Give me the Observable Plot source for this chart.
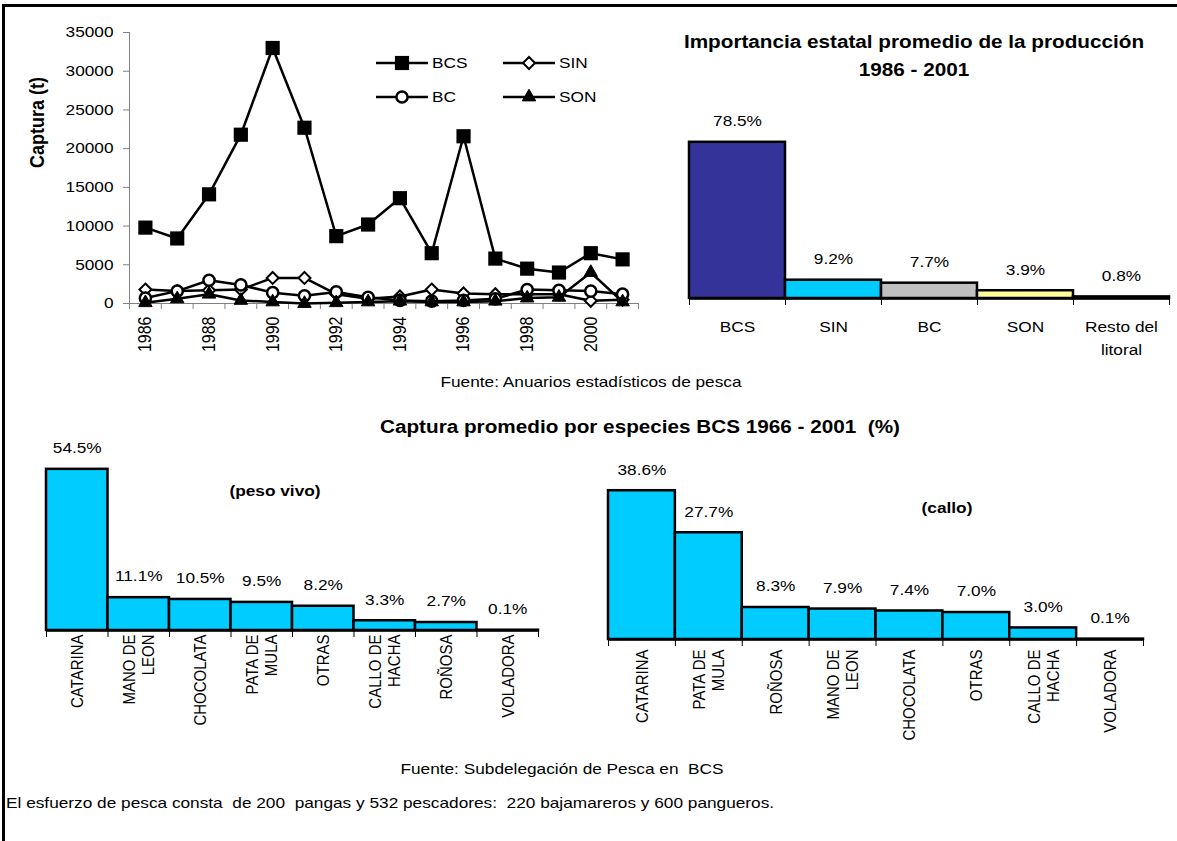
<!DOCTYPE html>
<html><head><meta charset="utf-8">
<script src="https://cdn.jsdelivr.net/npm/d3@7"></script>
<script src="https://cdn.jsdelivr.net/npm/@observablehq/plot@0.6"></script>
<style>
body{margin:0;background:#fff;}
#root{position:relative;width:1177px;height:841px;overflow:hidden;font-family:"Liberation Sans",Arial,sans-serif;color:#000;background:#fff;}
.t{position:absolute;white-space:pre;line-height:1;}
.c{transform:translateX(-50%) scaleX(1.15);}
.l{transform-origin:left center;transform:scaleX(1.15);}
.b{font-weight:bold;}
#frame{position:absolute;left:2px;top:4px;width:1200px;height:900px;border-left:3px solid #000;border-top:3px solid #000;}
</style>
</head><body>
<div id="root"><div id="frame"></div></div>
<script>
// ---------------- data ----------------
const years = [1986,1987,1988,1989,1990,1991,1992,1993,1994,1995,1996,1997,1998,1999,2000,2001];
const bcs = [9800,8400,14100,21800,33000,22700,8700,10200,13600,6500,21600,5800,4500,4000,6500,5700];
const sin = [1800,1600,1700,1800,3300,3300,1200,600,900,1800,1300,1200,1200,1200,350,500];
const bc  = [700,1600,3000,2400,1400,1000,1500,800,400,300,400,600,1800,1700,1600,1200];
const son = [100,600,1200,400,200,0,100,200,300,200,200,300,700,800,4000,200];
const yearLabels = [1986,1988,1990,1992,1994,1996,1998,2000];
const yTicks = [0,5000,10000,15000,20000,25000,30000,35000];

const states = ["BCS","SIN","BC","SON","Resto del\nlitoral"];
const statePct = [78.5,9.2,7.7,3.9,0.8];
const stateColors = ["#333399","#00CCFF","#C0C0C0","#FFFF99","#FFFFFF"];

const speciesVivo = ["CATARINA","MANO DE\nLEON","CHOCOLATA","PATA DE\nMULA","OTRAS","CALLO DE\nHACHA","ROÑOSA","VOLADORA"];
const pctVivo = [54.5,11.1,10.5,9.5,8.2,3.3,2.7,0.1];
const speciesCallo = ["CATARINA","PATA DE\nMULA","ROÑOSA","MANO DE\nLEON","CHOCOLATA","OTRAS","CALLO DE\nHACHA","VOLADORA"];
const pctCallo = [38.6,27.7,8.3,7.9,7.4,7.0,3.0,0.1];
const speciesColor = "#00CCFF";

// ---------------- helpers ----------------
const K = 1.15;
const FONT = '"Liberation Sans", Arial, sans-serif';
const SVGNS = "http://www.w3.org/2000/svg";
const root = document.getElementById("root");
function stretch(svg){
  Array.from(svg.querySelectorAll("text")).forEach(t=>{
    const p=t.parentNode;
    const m=p.getCTM().inverse().multiply(t.getCTM());
    const x=parseFloat(t.getAttribute("x"))||0, y=parseFloat(t.getAttribute("y"))||0;
    const px=m.a*x+m.c*y+m.e;
    if(!isFinite(px)) return;
    const g=document.createElementNS(SVGNS,"g");
    g.setAttribute("transform",`translate(${px.toFixed(3)},0) scale(${K},1) translate(${(-px).toFixed(3)},0)`);
    p.insertBefore(g,t); g.appendChild(t);
  });
}
function place(svg,left,top){
  svg.style.position="absolute"; svg.style.left=left+"px"; svg.style.top=top+"px";
  root.appendChild(svg); stretch(svg);
}
function label(text,x,y,size,cls){
  const d=document.createElement("div");
  d.className="t "+cls; d.textContent=text;
  d.style.fontSize=size+"px"; d.style.left=x+"px"; d.style.top=(y-size/2)+"px";
  root.appendChild(d);
}
const style={fontFamily:FONT,fontSize:"15px",background:"transparent",overflow:"visible",color:"#000"};

// ---------------- line chart ----------------
const seriesStyle = [
  {values:bcs, symbol:"square",   r:8,   fill:"black", stroke:"none",  sw:0},
  {values:sin, symbol:"diamond2", r:5.4, fill:"white", stroke:"black", sw:2},
  {values:bc,  symbol:"circle",   r:5.6, fill:"white", stroke:"black", sw:2.5},
  {values:son, symbol:"triangle", r:5,   fill:"black", stroke:"black", sw:1}
];
const boundaries = years.map(y=>y-0.5).concat([years[years.length-1]+0.5]);
const lineMarks = [
  Plot.ruleX([boundaries[0]],{stroke:"#808080"}),
  Plot.ruleY([0],{stroke:"#808080"}),
  Plot.axisY(yTicks,{tickSize:6,tickPadding:10,tickFormat:d=>String(d),stroke:"#808080",fill:"black",label:null}),
  Plot.axisX(boundaries,{tickSize:6,tickFormat:()=>"",stroke:"#808080",label:null}),
  Plot.axisX(yearLabels,{tickSize:0,tickPadding:13,tickRotate:-90,tickFormat:d=>String(d),fill:"black",fontSize:16,label:null}),
  Plot.text(["Captura (t)"],{frameAnchor:"left",rotate:-90,dx:-92,fontWeight:"bold",fontSize:18})
];
seriesStyle.forEach(s=>{
  const rows=years.map((y,i)=>({year:y,v:s.values[i]}));
  lineMarks.push(Plot.line(rows,{x:"year",y:"v",stroke:"black",strokeWidth:2.5}));
  lineMarks.push(Plot.dot(rows,{x:"year",y:"v",symbol:s.symbol,r:s.r,fill:s.fill,stroke:s.stroke,strokeWidth:s.sw}));
});
place(Plot.plot({width:660,height:380,marginLeft:129,marginRight:22,marginTop:32,marginBottom:77,
  x:{domain:[boundaries[0],boundaries[boundaries.length-1]],axis:null},y:{domain:[0,35000],axis:null},style,marks:lineMarks}),0,0);

// legend
(function(){
  const names=["BCS","SIN","BC","SON"];
  const pos=[[376,63],[503,63],[376,97],[503,97]];
  const svg=d3.create("svg").attr("width",660).attr("height",130)
    .style("position","absolute").style("left","0px").style("top","0px").style("font-family",FONT).style("font-size","15px");
  seriesStyle.forEach((s,i)=>{
    const [x,y]=pos[i];
    svg.append("line").attr("x1",x).attr("x2",x+52).attr("y1",y).attr("y2",y).attr("stroke","black").attr("stroke-width",2.5);
    const sym={square:d3.symbolSquare,diamond2:d3.symbolDiamond2,circle:d3.symbolCircle,triangle:d3.symbolTriangle}[s.symbol];
    svg.append("path").attr("d",d3.symbol(sym,Math.PI*s.r*s.r)()).attr("transform",`translate(${x+26},${y})`)
      .attr("fill",s.fill).attr("stroke",s.stroke).attr("stroke-width",s.sw);
    svg.append("text").attr("x",0).attr("y",0).attr("dy","0.35em").attr("transform",`translate(${x+56},${y})`).text(names[i]);
  });
  root.appendChild(svg.node()); stretch(svg.node());
})();

// ---------------- bar charts ----------------
function barChart(o){
  const n=o.cats.length;
  const rows=o.cats.map((c,i)=>({i,c,v:o.vals[i],f:Array.isArray(o.colors)?o.colors[i]:o.colors}));
  const svg=Plot.plot({width:o.width,height:o.height,marginLeft:o.mL,marginRight:o.mR,marginTop:o.mT,marginBottom:o.mB,
    x:{domain:[0,n],axis:null},y:{domain:[0,o.ymax],axis:null},color:{type:"identity"},style,
    marks:[
      Plot.rectY(rows,{x1:"i",x2:d=>d.i+1,y:"v",fill:"f",stroke:"black",strokeWidth:2.5}),
      Plot.ruleY([0],{stroke:"black",strokeWidth:2.5}),
      Plot.text(rows,{x:d=>d.i+0.5,y:"v",text:d=>d.v.toFixed(1)+"%",dy:-21,fontSize:15}),
      Plot.axisX(d3.range(n+1),{tickSize:7,tickFormat:()=>"",stroke:"black",label:null}),
      Plot.axisX(rows.map(d=>d.i+0.5),{tickSize:0,tickPadding:o.pad,tickRotate:o.rotate,lineHeight:o.lh,
        tickFormat:v=>o.cats[Math.floor(v)],fill:"black",label:null})
    ]});
  place(svg,o.left,o.top);
}
barChart({cats:states,vals:statePct,colors:stateColors,left:640,top:0,width:537,height:380,
  mL:49,mR:8,mT:99,mB:82,ymax:100,rotate:0,pad:18,lh:1.5});
barChart({cats:speciesVivo,vals:pctVivo,colors:speciesColor,left:0,top:400,width:580,height:340,
  mL:46,mR:42,mT:23,mB:110,ymax:70,rotate:-90,pad:4,lh:1.1});
barChart({cats:speciesCallo,vals:pctCallo,colors:speciesColor,left:580,top:400,width:597,height:340,
  mL:28,mR:34,mT:27,mB:101,ymax:55,rotate:-90,pad:10,lh:1.1});

// ---------------- texts ----------------
label("Importancia estatal promedio de la producción",914,42,18,"c b");
label("1986 - 2001",914,70,18,"c b");
label("Fuente: Anuarios estadísticos de pesca",591,381,15,"c");
label("Captura promedio por especies BCS 1966 - 2001  (%)",640,427,18,"c b");
label("(peso vivo)",275,490,15,"c b");
label("(callo)",947,507,15,"c b");
label("Fuente: Subdelegación de Pesca en  BCS",562,768,15,"c");
label("El esfuerzo de pesca consta  de 200  pangas y 532 pescadores:  220 bajamareros y 600 pangueros.",6,802,15,"l");
</script>
</body></html>
